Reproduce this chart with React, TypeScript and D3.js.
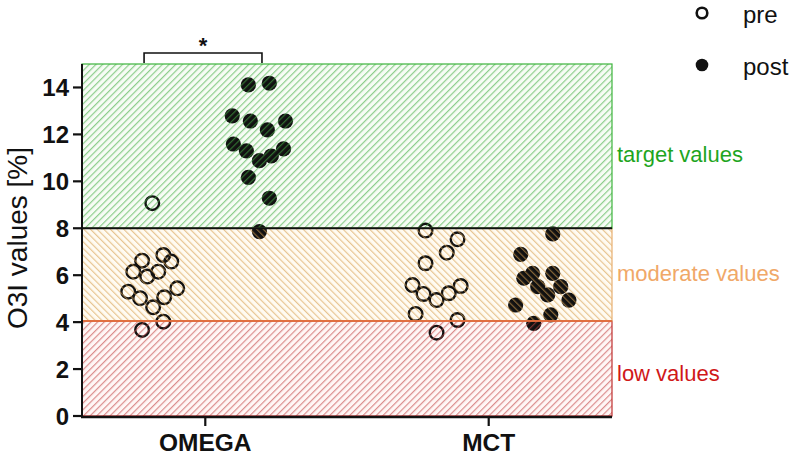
import React from "react";
import * as d3 from "d3";

const categories = ["OMEGA", "MCT"];
const yTicks = [0, 2, 4, 6, 8, 10, 12, 14];
const bands = [
  { name: "low values", lo: 0, hi: 4.05, key: "low" },
  { name: "moderate values", lo: 4.05, hi: 8, key: "mod" },
  { name: "target values", lo: 8, hi: 15, key: "target" },
];
// [value, horizontal offset from category centre, in category units]
const omegaPre: [number, number][] = [
  [9.07, -0.187], [6.62, -0.223], [6.86, -0.148], [6.58, -0.12], [6.15, -0.254],
  [5.94, -0.205], [6.15, -0.166], [5.44, -0.099], [5.3, -0.272], [5.02, -0.23],
  [4.63, -0.184], [5.06, -0.145], [4.02, -0.148], [3.67, -0.223],
];
const omegaPost: [number, number][] = [
  [14.11, 0.152], [14.18, 0.226], [12.79, 0.095], [12.57, 0.159], [12.57, 0.283],
  [12.19, 0.219], [11.59, 0.099], [11.3, 0.145], [11.38, 0.276], [11.08, 0.233],
  [10.88, 0.191], [10.17, 0.152], [9.28, 0.226], [7.86, 0.191],
];
const mctPre: [number, number][] = [
  [7.9, -0.223], [7.53, -0.11], [6.96, -0.148], [6.51, -0.223], [5.58, -0.269],
  [5.2, -0.23], [5.54, -0.099], [4.94, -0.184], [5.23, -0.141], [4.35, -0.258],
  [4.09, -0.11], [3.55, -0.184],
];
const mctPost: [number, number][] = [
  [7.76, 0.226], [6.89, 0.113], [6.08, 0.155], [6.08, 0.226], [5.87, 0.124],
  [5.51, 0.173], [5.51, 0.254], [5.16, 0.208], [4.94, 0.283], [4.73, 0.095],
  [4.31, 0.219], [3.95, 0.159],
];
const legendLabels = ["pre", "post"];

const FONT = "'Liberation Sans', Arial, Helvetica, sans-serif";

export default function App() {
  const W = 800, H = 456;
  const left = 82, right = 612, top = 64, bottom = 416;
  const y = d3.scaleLinear().domain([0, 15]).range([bottom, top]);
  const x = d3.scaleLinear().domain([0.565, 2.435]).range([left, right]);
  const catPos = (i: number) => i + 1;

  const bandStyle: Record<string, { bg: string; line: string; rot: number; text: string; border: string }> = {
    target: { bg: "#f7fcf5", line: "rgb(70,175,70)", rot: 45, text: "#1ea51e", border: "#3cb43c" },
    mod: { bg: "#fffbf2", line: "rgb(215,160,80)", rot: -45, text: "#f0a868", border: "#e8b070" },
    low: { bg: "#fff7f6", line: "rgb(195,70,70)", rot: 45, text: "#d01818", border: "#c03030" },
  };
  const labelBase: Record<string, number> = { target: 162, mod: 281, low: 381 };

  const groups = [
    { data: omegaPre, cat: 0, filled: false },
    { data: omegaPost, cat: 0, filled: true },
    { data: mctPre, cat: 1, filled: false },
    { data: mctPost, cat: 1, filled: true },
  ];

  return (
    <svg width={W} height={H} style={{ position: "absolute", left: 0, top: 0, background: "#fff" }} fontFamily={FONT}>
      <defs>
        {bands.map((b) => {
          const s = bandStyle[b.key];
          return (
            <pattern key={b.key} id={"hatch-" + b.key} width={4.7} height={4.7} patternUnits="userSpaceOnUse" patternTransform={`rotate(${s.rot})`}>
              <line x1={0.6} y1={0} x2={0.6} y2={4.7} stroke={s.line} strokeWidth={1.2} strokeOpacity={0.6} />
            </pattern>
          );
        })}
      </defs>

      {/* band backgrounds */}
      {bands.map((b) => (
        <rect key={"bg" + b.key} x={left} y={y(b.hi)} width={right - left} height={y(b.lo) - y(b.hi)} fill={bandStyle[b.key].bg} />
      ))}

      {/* points */}
      {groups.map((g, gi) =>
        g.data.map(([v, dx], i) => (
          <circle
            key={gi + "-" + i}
            cx={x(catPos(g.cat) + dx)}
            cy={y(v)}
            r={g.filled ? 7.6 : 6.8}
            fill={g.filled ? "#111" : "none"}
            stroke="#111"
            strokeWidth={g.filled ? 0 : 2.4}
          />
        ))
      )}

      {/* hatch overlay and borders */}
      {bands.map((b) => (
        <g key={"ov" + b.key}>
          <rect x={left} y={y(b.hi)} width={right - left} height={y(b.lo) - y(b.hi)} fill={`url(#hatch-${b.key})`} />
          <rect x={left} y={y(b.hi)} width={right - left} height={y(b.lo) - y(b.hi)} fill="none" stroke={bandStyle[b.key].border} strokeWidth={1.2} />
        </g>
      ))}
      <line x1={left} x2={right} y1={y(8)} y2={y(8)} stroke="#111" strokeWidth={2.2} />
      <line x1={left} x2={right} y1={y(4.05)} y2={y(4.05)} stroke="#e06030" strokeWidth={1.6} />

      {/* y axis */}
      <line x1={left} x2={left} y1={y(15)} y2={bottom + 1} stroke="#111" strokeWidth={2} />
      {yTicks.map((t) => (
        <g key={"yt" + t}>
          <line x1={left - 9} x2={left} y1={y(t)} y2={y(t)} stroke="#111" strokeWidth={2.2} />
          <text x={left - 13} y={y(t)} dy="0.36em" textAnchor="end" fontSize={24} fontWeight="bold" fill="#111">{t}</text>
        </g>
      ))}
      <text transform={`translate(27, ${(top + bottom) / 2 - 2}) rotate(-90)`} textAnchor="middle" fontSize={28} fill="#111">O3I values [%]</text>

      {/* x axis */}
      <line x1={left - 1} x2={right} y1={bottom + 1} y2={bottom + 1} stroke="#111" strokeWidth={2.4} />
      {categories.map((c, i) => (
        <g key={c}>
          <line x1={x(catPos(i))} x2={x(catPos(i))} y1={bottom + 1} y2={bottom + 10} stroke="#111" strokeWidth={2.2} />
          <text x={x(catPos(i))} y={451} textAnchor="middle" fontSize={24.5} fontWeight="bold" fill="#111">{c}</text>
        </g>
      ))}

      {/* band labels */}
      {bands.map((b) => (
        <text key={"lbl" + b.key} x={617} y={labelBase[b.key]} fontSize={22} fill={bandStyle[b.key].text}>{b.name}</text>
      ))}

      {/* significance bracket */}
      <path d={`M${x(catPos(0) - 0.216)},${y(15) - 1} V53 H${x(catPos(0) + 0.2)} V${y(15) - 1}`} fill="none" stroke="#111" strokeWidth={1.6} />
      <text x={x(catPos(0) - 0.008)} y={53} textAnchor="middle" fontSize={22} fontWeight="bold" fill="#111">*</text>

      {/* legend */}
      {legendLabels.map((l, i) => (
        <g key={l}>
          <circle cx={702} cy={13 + i * 52} r={i === 0 ? 5.3 : 6.3} fill={i === 0 ? "none" : "#111"} stroke="#111" strokeWidth={i === 0 ? 2.6 : 0} />
          <text x={743} y={23 + i * 52} fontSize={24} fill="#111">{l}</text>
        </g>
      ))}
    </svg>
  );
}
